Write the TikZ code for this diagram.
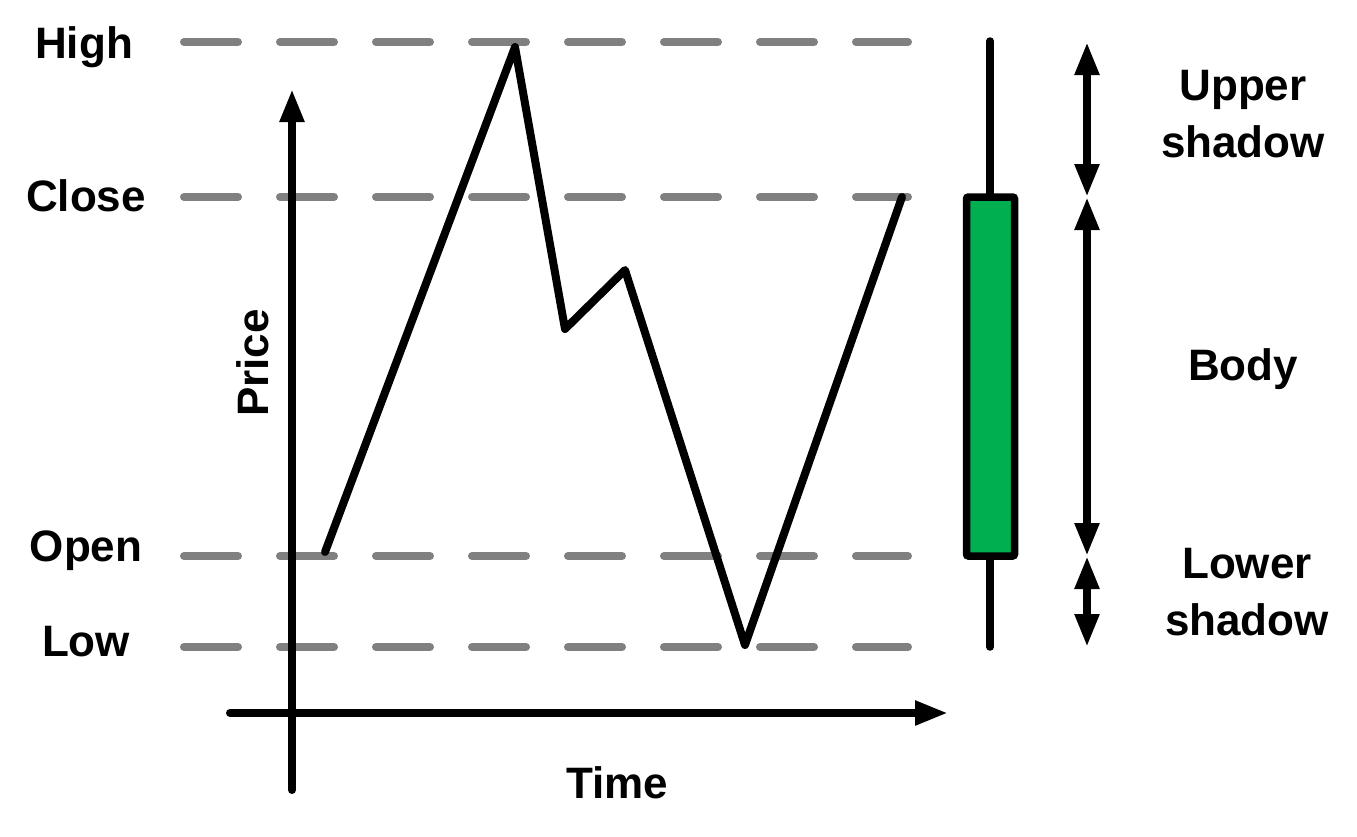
\documentclass[tikz,border=0pt]{standalone}
\usepackage{fontspec}
\setmainfont{Liberation Sans}
\usetikzlibrary{arrows.meta}
\definecolor{candlegreen}{HTML}{00AF50}
\definecolor{guidegray}{HTML}{808080}
\tikzset{
  lbl/.style={font=\fontsize{44}{57}\selectfont\bfseries, inner sep=0pt, anchor=base, align=center},
  guide/.style={draw=guidegray, line width=8pt, line cap=round, dash pattern=on 54pt off 42pt},
  axis/.style={draw=black, line width=8pt, line cap=round, -{Triangle[length=33pt,width=23pt]}},
  pricepath/.style={draw=black, line width=8pt, line join=round, line cap=round},
  span/.style={draw=black, line width=8pt, {Triangle[length=33pt,width=23pt]}-{Triangle[length=33pt,width=23pt]}},
}
\begin{document}
\begin{tikzpicture}[x=1pt,y=-1pt]
\useasboundingbox (0,0) rectangle (1357,836);
% labels
\node[lbl] (high) at (84,58) {High};
\node[lbl] (close) at (86,211) {Close};
\node[lbl] (open) at (86,561) {Open};
\node[lbl] (low) at (86,656) {Low};
\node[lbl, rotate=90] (price) at (268,363) {Price};
\node[lbl] (time) at (617,798) {Time};
\node[lbl] (upper) at (1243,157) {Upper\\shadow};
\node[lbl] (body) at (1243,380) {Body};
\node[lbl] (lower) at (1247,635) {Lower\\shadow};
% guide lines
\coordinate (gHs) at (184,42);  \coordinate (gHe) at (908,42);
\coordinate (gCs) at (184,197); \coordinate (gCe) at (908,197);
\coordinate (gOs) at (184,556); \coordinate (gOe) at (908,556);
\coordinate (gLs) at (184,647); \coordinate (gLe) at (908,647);
\draw[guide] (gHs) -- (gHe);
\draw[guide] (gCs) -- (gCe);
\draw[guide] (gOs) -- (gOe);
\draw[guide] (gLs) -- (gLe);
% axes
\coordinate (yb) at (292,790); \coordinate (yt) at (292,89);
\coordinate (xl) at (230,713); \coordinate (xr) at (948,713);
\draw[axis] (yb) -- (yt);
\draw[axis] (xl) -- (xr);
% price path
\coordinate (p0) at (325,552);
\coordinate (p1) at (515,47);
\coordinate (p2) at (565,329);
\coordinate (p3) at (625,270);
\coordinate (p4) at (745,645);
\coordinate (p5) at (902,197);
\draw[pricepath] (p0) -- (p1) -- (p2) -- (p3) -- (p4) -- (p5);
% candle
\coordinate (wt) at (990,41); \coordinate (wb) at (990,647);
\draw[line width=7.5pt, line cap=round] (wt) -- (wb);
\coordinate (bl) at (966.5,197); \coordinate (br) at (1014.5,556);
\draw[line width=7.5pt, fill=candlegreen, rounded corners=2pt] (bl) rectangle (br);
% spans
\coordinate (s1) at (1087,42);
\coordinate (s2) at (1087,197);
\coordinate (s3) at (1087,556);
\coordinate (s4) at (1087,647);
\draw[span] (s1) -- (s2);
\draw[span] (s2) -- (s3);
\draw[span] (s3) -- (s4);
\end{tikzpicture}
\end{document}
